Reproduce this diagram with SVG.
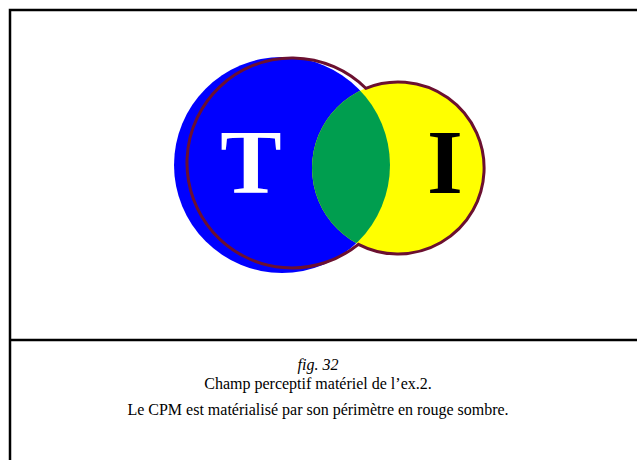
<svg xmlns="http://www.w3.org/2000/svg" width="637" height="460" viewBox="0 0 637 460">
  <style>
    .frame { fill: none; stroke: #000; stroke-width: 2.5; }
    .cap { font-family: "Liberation Serif", "Times New Roman", serif; font-size: 16px; fill: #000; text-anchor: middle; }
    .letter { font-family: "Liberation Serif", "Times New Roman", serif; font-weight: bold; font-size: 92px; text-anchor: middle; }
  </style>
  <defs>
    <clipPath id="blueClip">
      <circle cx="282" cy="165" r="108"/>
    </clipPath>
  </defs>
  <rect width="637" height="460" fill="#fff"/>
  <g id="frame">
    <path class="frame" d="M10,460 V10 H637"/>
    <line class="frame" x1="10" y1="340" x2="637" y2="340"/>
  </g>
  <g id="circle-T">
    <circle cx="282" cy="165" r="108" fill="#0000ff"/>
  </g>
  <g id="circle-I">
    <circle cx="398" cy="168" r="86" fill="#ffff00"/>
  </g>
  <g id="intersection">
    <circle cx="398" cy="168" r="86" fill="#009e4f" clip-path="url(#blueClip)"/>
  </g>
  <g id="cpm-perimeter">
    <path d="M365.8,88.3 A105,105 0 1,0 358.4,244.3 A86,86 0 1,0 365.8,88.3 Z" fill="none" stroke="#6b1030" stroke-width="3"/>
  </g>
  <g id="label-T">
    <text class="letter" x="251" y="193" fill="#fff">T</text>
  </g>
  <g id="label-I">
    <text class="letter" x="445" y="193" fill="#000">I</text>
  </g>
  <g id="caption">
    <text class="cap" x="318" y="370" font-style="italic">fig. 32</text>
    <text class="cap" x="318" y="389">Champ perceptif matériel de l’ex.2.</text>
    <text class="cap" x="318" y="415">Le CPM est matérialisé par son périmètre en rouge sombre.</text>
  </g>
</svg>
